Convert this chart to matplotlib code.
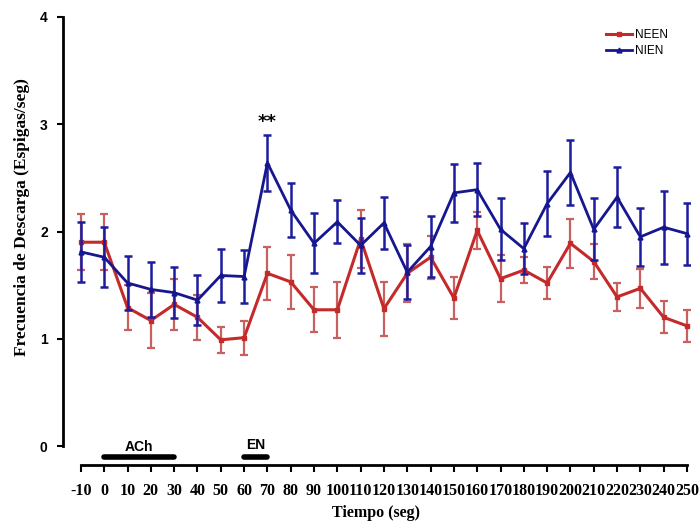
import matplotlib
matplotlib.use("Agg")
import matplotlib.pyplot as plt
from matplotlib.lines import Line2D

# ---- data ----
tiempo = [-10, 0, 10, 20, 30, 40, 50, 60, 70, 80, 90, 100, 110, 120, 130,
          140, 150, 160, 170, 180, 190, 200, 210, 220, 230, 240, 250]
neen = [1.90, 1.90, 1.29, 1.17, 1.32, 1.20, 0.99, 1.01, 1.61, 1.53, 1.27, 1.27, 1.93, 1.28, 1.61,
        1.76, 1.38, 2.01, 1.56, 1.64, 1.52, 1.89, 1.72, 1.39, 1.47, 1.20, 1.12]
neen_err = [0.26, 0.26, 0.21, 0.26, 0.24, 0.21, 0.12, 0.16, 0.25, 0.25, 0.21, 0.26, 0.27, 0.25, 0.27,
            0.20, 0.20, 0.17, 0.22, 0.12, 0.15, 0.23, 0.16, 0.13, 0.18, 0.15, 0.15]
nien = [1.81, 1.76, 1.52, 1.46, 1.43, 1.36, 1.59, 1.58, 2.64, 2.20, 1.89, 2.09, 1.87, 2.08, 1.62,
        1.86, 2.36, 2.39, 2.02, 1.84, 2.26, 2.55, 2.02, 2.32, 1.95, 2.04, 1.98]
nien_err = [0.28, 0.28, 0.25, 0.26, 0.24, 0.23, 0.25, 0.25, 0.26, 0.25, 0.28, 0.20, 0.26, 0.24, 0.25,
            0.28, 0.27, 0.25, 0.29, 0.24, 0.30, 0.30, 0.29, 0.28, 0.27, 0.34, 0.29]
yticks = [0, 1, 2, 3, 4]
ach_span = [0, 30]
en_span = [60, 70]
signif_x = 70
signif_y = 3.02

serif = ["Liberation Serif", "DejaVu Serif"]
sans = ["Liberation Sans", "DejaVu Sans"]

fig = plt.figure(figsize=(7, 5.25), dpi=100)
ax = fig.add_axes([63/700, 79/525, (690-63)/700, (446-17)/525])

red_line = "#c42a2a"
red_err = "#c96060"
blue_line = "#16168f"
blue_err = "#1c1c9e"

ax.errorbar(tiempo, neen, yerr=neen_err, color=red_line, ecolor=red_err, lw=2.2,
            elinewidth=1.6, capsize=3, capthick=1.6, marker="s", ms=3.5, zorder=3)
ax.errorbar(tiempo, nien, yerr=nien_err, color=blue_line, ecolor=blue_err, lw=2,
            elinewidth=1.8, capsize=3.2, capthick=1.8, marker="^", ms=3.5, zorder=4)

ax.set_xlim(-17.7, 251.3)
ax.set_ylim(0, 4)
for s in ["top", "right"]:
    ax.spines[s].set_visible(False)
ax.spines["left"].set_bounds(0, 4)
ax.spines["left"].set_linewidth(2)
ax.spines["bottom"].set_position(("outward", 13.7))
ax.spines["bottom"].set_bounds(-10, 250)
ax.spines["bottom"].set_linewidth(2)

ax.set_yticks(yticks)
ax.set_yticklabels([str(v) for v in yticks], fontfamily=sans, fontweight="bold", fontsize=10)
ax.tick_params(axis="y", direction="out", length=4, width=1.5, pad=7)
ax.set_xticks(tiempo)
ax.set_xticklabels([str(v) for v in tiempo], fontfamily=serif, fontweight="bold", fontsize=11.5)
ax.tick_params(axis="x", direction="out", length=5, width=1.5, pad=8)

ax.set_xlabel("Tiempo (seg)", fontfamily=serif, fontweight="bold", fontsize=11.5, labelpad=4)
fig.text(22/700, (525-217)/525, "Frecuencia de Descarga (Espigas/seg)", rotation=90,
         ha="center", va="center", fontfamily=serif, fontweight="bold", fontsize=12.5)

# stimulus bars
ax.plot(ach_span, [-0.10, -0.10], color="black", lw=4, clip_on=False, solid_capstyle="round")
ax.plot(en_span, [-0.10, -0.10], color="black", lw=4, clip_on=False, solid_capstyle="round")
ax.text(sum(ach_span)/2, -0.01, "ACh", ha="center", va="center", fontfamily=sans,
        fontweight="bold", fontsize=10, clip_on=False)
ax.text(sum(en_span)/2, 0.01, "EN", ha="center", va="center", fontfamily=sans,
        fontweight="bold", fontsize=10, clip_on=False)

ax.text(signif_x, signif_y, "**", ha="center", va="center", fontsize=13, fontweight="bold")

handles = [Line2D([], [], color=red_line, lw=2.2, marker="s", ms=3.5),
           Line2D([], [], color=blue_line, lw=2, marker="^", ms=3.5)]
ax.legend(handles, ["NEEN", "NIEN"], loc="upper right", bbox_to_anchor=(0.984, 1.0),
          frameon=False, prop={"family": sans, "size": 8.5}, handlelength=2.2,
          handletextpad=0.3, labelspacing=0.35, borderaxespad=0.6)

fig.savefig("out.png", dpi=100)
